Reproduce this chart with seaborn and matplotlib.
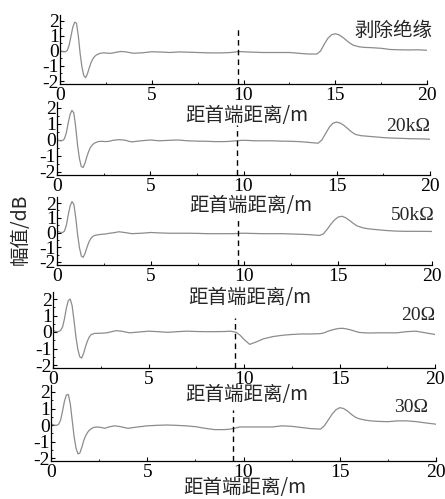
import matplotlib
matplotlib.use("Agg")
import matplotlib.pyplot as plt
from matplotlib.ticker import MultipleLocator
import pandas as pd
import seaborn as sns

# distance from the cable head end (m)
distance = [0.0, 0.1, 0.2, 0.3, 0.4, 0.5, 0.6, 0.7, 0.8, 0.9, 1.0, 1.1, 1.2, 1.3, 1.4,
            1.5, 1.6, 1.7, 1.8, 1.9, 2.0,
            2.2, 2.4, 2.6, 2.8, 3.0,
            3.3, 3.6, 4.0,
            4.5, 5.0, 5.5, 6.0, 6.5, 7.0, 7.5, 8.0, 8.5, 9.0,
            9.3, 9.6, 9.8, 10.0, 10.3, 10.6, 11.0,
            11.5, 12.0, 12.5, 13.0, 13.5, 14.0,
            14.2, 14.4, 14.6, 14.8, 15.0, 15.2, 15.4, 15.6, 15.8, 16.0,
            16.3, 16.6, 17.0,
            17.5, 18.0, 18.5, 19.0, 19.5, 20.0]

# amplitude (dB) for each defect case
amp_stripped = [0.00, -0.02, -0.05, -0.05, 0.05, 0.40, 1.00, 1.60, 1.92, 1.85, 1.00, -0.20, -1.10, -1.65, -1.78,
                -1.50, -1.10, -0.75, -0.50, -0.35, -0.25,
                -0.15, -0.12, -0.15, -0.15, -0.10,
                -0.03, -0.06, -0.15,
                -0.12, -0.05, -0.07, -0.10, -0.06, -0.08, -0.10, -0.12, -0.13, -0.12,
                -0.10, -0.06, -0.04, -0.05, -0.07, -0.08, -0.10,
                -0.10, -0.10, -0.10, -0.15, -0.20, -0.20,
                0.00, 0.45, 0.85, 1.08, 1.15, 1.08, 0.92, 0.72, 0.52, 0.38,
                0.28, 0.24, 0.22,
                0.18, 0.10, 0.08, 0.07, 0.08, 0.05]

amp_20k = [0.00, -0.03, -0.05, -0.03, 0.08, 0.45, 1.05, 1.60, 1.85, 1.70, 0.85, -0.30, -1.15, -1.65, -1.72,
           -1.45, -1.05, -0.70, -0.45, -0.30, -0.20,
           -0.10, -0.08, -0.10, -0.08, -0.02,
           0.02, 0.00, -0.12,
           -0.05, 0.00, -0.05, -0.02, 0.00, -0.05, -0.07, -0.08, -0.10, -0.10,
           -0.08, -0.05, -0.03, -0.02, -0.03, -0.05, -0.05,
           -0.05, -0.07, -0.08, -0.10, -0.15, -0.20,
           0.00, 0.40, 0.80, 1.05, 1.12, 1.05, 0.90, 0.70, 0.50, 0.35,
           0.27, 0.24, 0.20,
           0.15, 0.12, 0.10, 0.08, 0.07, 0.05]

amp_50k = [0.10, 0.05, 0.00, 0.00, 0.10, 0.50, 1.20, 1.80, 2.10, 1.90, 1.00, -0.15, -1.05, -1.60, -1.68,
           -1.40, -1.00, -0.65, -0.42, -0.28, -0.20,
           -0.15, -0.12, -0.10, -0.05, -0.02,
           0.05, 0.00, -0.08,
           -0.05, 0.00, -0.03, -0.05, -0.05, -0.05, -0.06, -0.08, -0.08, -0.08,
           -0.08, -0.07, -0.05, -0.05, -0.06, -0.07, -0.08,
           -0.08, -0.08, -0.10, -0.12, -0.15, -0.20,
           -0.10, 0.20, 0.55, 0.85, 1.05, 1.10, 1.00, 0.82, 0.62, 0.45,
           0.32, 0.25, 0.20,
           0.14, 0.10, 0.08, 0.08, 0.08, 0.07]

amp_20ohm = [0.10, 0.05, 0.02, 0.03, 0.10, 0.30, 0.80, 1.45, 1.90, 2.00, 1.60, 0.70, -0.30, -1.05, -1.50,
             -1.58, -1.30, -0.90, -0.55, -0.30, -0.15,
             -0.08, -0.08, -0.07, -0.05, 0.00,
             0.08, 0.05, -0.05,
             0.00, 0.05, 0.02, -0.02, 0.02, 0.05, 0.03, 0.02, 0.02, 0.03,
             0.05, -0.02, -0.20, -0.45, -0.75, -0.62, -0.42,
             -0.28, -0.20, -0.15, -0.12, -0.12, -0.10,
             -0.05, 0.05, 0.12, 0.18, 0.22, 0.22, 0.18, 0.12, 0.05, -0.02,
             -0.05, -0.06, -0.05,
             -0.05, -0.05, 0.02, 0.05, -0.05, -0.15]

amp_30ohm = [0.05, 0.02, -0.02, -0.02, 0.05, 0.30, 0.85, 1.45, 1.82, 1.85, 1.30, 0.30, -0.70, -1.40, -1.75,
             -1.70, -1.35, -0.95, -0.65, -0.45, -0.30,
             -0.15, -0.12, -0.15, -0.20, -0.12,
             -0.05, -0.10, -0.20,
             -0.12, -0.05, -0.02, 0.00, -0.02, -0.05, -0.10, -0.20, -0.28, -0.28,
             -0.25, -0.18, -0.12, -0.12, -0.12, -0.12, -0.12,
             -0.12, -0.05, -0.08, -0.15, -0.22, -0.25,
             -0.05, 0.30, 0.65, 0.92, 1.05, 1.00, 0.85, 0.65, 0.48, 0.38,
             0.30, 0.25, 0.22,
             0.20, 0.25, 0.25, 0.20, 0.12, 0.05]

case_names = ["剥除绝缘", "20kΩ", "50kΩ", "20Ω", "30Ω"]
case_amps = [amp_stripped, amp_20k, amp_50k, amp_20ohm, amp_30ohm]
fault_pos = [9.7, 9.65, 9.65, 9.55, 9.45]
fault_top = [1.6, 0.95, 0.85, 0.85, 0.9]
ytick_vals = [-2, -1, 0, 1, 2]
ytick_text = ["-2", "-1", "0", "1", "2"]
xtick_vals = [0, 5, 10, 15, 20]

sns.set_theme(style="ticks")
plt.rcParams["font.family"] = ["Liberation Serif", "Noto Sans CJK SC"]
plt.rcParams["axes.edgecolor"] = "black"
plt.rcParams["xtick.color"] = "black"
plt.rcParams["ytick.color"] = "black"

W, H = 445, 499
fig = plt.figure(figsize=(W / 100, H / 100), dpi=100)

# (left, right, pixel row of +2, pixel row of -2) for each panel
geom = [(60, 427, 21, 81), (57, 430, 108, 172), (57, 432, 203, 262),
        (53, 435, 299, 365), (51, 436, 392, 458)]
label_pos = [(247, 115), (251, 205), (250, 298), (247, 395), (245, 488)]
name_pos = [(432, 30), (430, 127), (435, 216), (435, 316), (428, 408)]
YLO, YHI = -2.2, 2.4
CJK = ["Noto Sans CJK SC", "DejaVu Sans"]
FS = 14

for i, (name, amp) in enumerate(zip(case_names, case_amps)):
    left, right, y2, ym2 = geom[i]
    ppu = (ym2 - y2) / 4.0
    top_px = y2 - (YHI - 2) * ppu
    bot_px = ym2 + (-2 - YLO) * ppu
    ax = fig.add_axes([left / W, 1 - bot_px / H, (right - left) / W, (bot_px - top_px) / H])
    ax.patch.set_alpha(0)
    df = pd.DataFrame({"distance": distance, "amp": amp})
    sns.lineplot(data=df, x="distance", y="amp", ax=ax, color="#8c8c8c",
                 linewidth=0.9, legend=False)
    ax.vlines(fault_pos[i], YLO, fault_top[i], colors="black", linestyles=(0, (4, 3)),
              linewidth=1.0)
    ax.set_xlim(0, 20)
    ax.set_ylim(YLO, YHI)
    ax.set_xticks(xtick_vals)
    ax.set_xticklabels([str(v) for v in xtick_vals])
    ax.set_yticks(ytick_vals)
    ax.set_yticklabels(ytick_text)
    ax.xaxis.set_minor_locator(MultipleLocator(2.5))
    ax.yaxis.set_minor_locator(MultipleLocator(0.5))
    ax.tick_params(which="major", direction="in", length=3, width=0.8,
                   labelsize=FS, pad=2)
    ax.tick_params(which="minor", direction="in", length=1.5, width=0.6)
    ax.tick_params(axis="y", pad=1)
    sns.despine(ax=ax)
    for s in ("left", "bottom"):
        ax.spines[s].set_linewidth(0.9)
        ax.spines[s].set_color("black")
    ax.set_ylabel("")
    lx, ly = label_pos[i]
    ax.set_xlabel("距首端距离/m", fontsize=FS, family=CJK, va="center")
    ax.xaxis.set_label_coords((lx - left) / (right - left), (bot_px - ly) / (bot_px - top_px))
    nx, ny = name_pos[i]
    fam = CJK if i == 0 else ["Liberation Serif", "DejaVu Sans"]
    fig.text(nx / W, 1 - ny / H, name, ha="right", va="center", fontsize=FS, family=fam)

fig.text(20 / W, 1 - 229 / H, "幅值/dB", rotation=90, ha="center", va="center",
         fontsize=FS, family=CJK)

fig.savefig("out.png", dpi=100)
